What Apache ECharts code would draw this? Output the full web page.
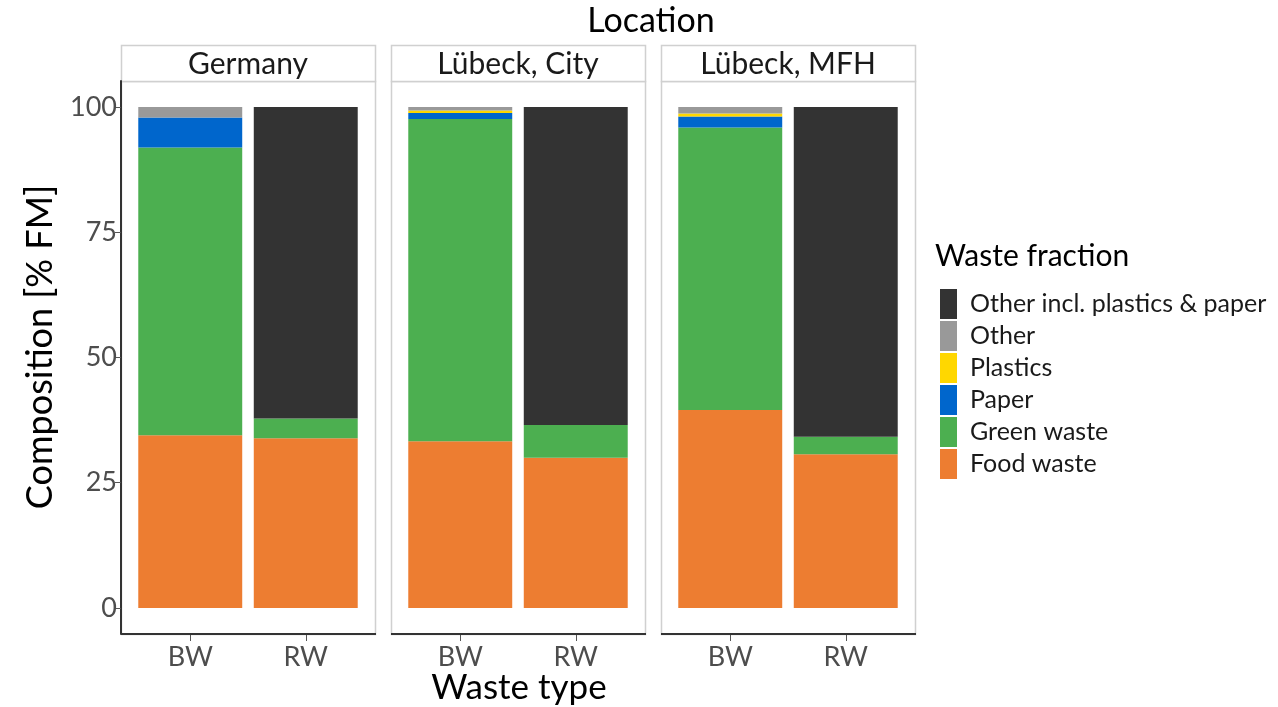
<!DOCTYPE html>
<html>
<head>
<meta charset="utf-8">
<script src="https://cdn.jsdelivr.net/npm/echarts@6/dist/echarts.min.js"></script>
<style>
  html, body { margin: 0; padding: 0; background: #fff; }
  #chart { width: 1278px; height: 707px; }
</style>
</head>
<body>
<div id="chart"></div>
<script>
// Facets and x categories
const locations = ['Germany', 'Lübeck, City', 'Lübeck, MFH'];
const wasteTypes = ['BW', 'RW'];
const yTicks = [0, 25, 50, 75, 100];

// Composition in % FM, one [BW, RW] pair per location
const foodWaste   = [[34.5, 33.9], [33.3, 30.0], [39.5, 30.7]];
const greenWaste  = [[57.4, 3.9],  [64.3, 6.5],  [56.4, 3.5]];
const paper       = [[6.0, 0],     [1.2, 0],     [2.2, 0]];
const plastics    = [[0, 0],       [0.5, 0],     [0.6, 0]];
const other       = [[2.1, 0],     [0.7, 0],     [1.3, 0]];
const otherIncl   = [[0, 62.2],    [0, 63.5],    [0, 65.8]];

// Stack order, bottom to top
const fractions = [
  { name: 'Food waste', values: foodWaste, color: '#ED7D31' },
  { name: 'Green waste', values: greenWaste, color: '#4CAF50' },
  { name: 'Paper', values: paper, color: '#0066CC' },
  { name: 'Plastics', values: plastics, color: '#FFD700' },
  { name: 'Other', values: other, color: '#999999' },
  { name: 'Other incl. plastics & paper', values: otherIncl, color: '#333333' }
];

const FONT = 'Lato, "Open Sans", sans-serif';
const panelLeft = [121, 391, 661];
const panelW = 254;
const inset = 11.5;          // extra room between panel edge and outer category band
const panelTop = 81;
const panelBottom = 634;
const stripTop = 45;

const grids = [], xAxes = [], yAxes = [], series = [], graphics = [];

locations.forEach((loc, i) => {
  grids.push({
    left: panelLeft[i] + inset, top: panelTop,
    width: panelW - 2 * inset, height: panelBottom - panelTop
  });
  xAxes.push({
    gridIndex: i, type: 'category', data: wasteTypes, position: 'bottom',
    axisLine: { show: false, onZero: false },
    axisTick: { show: true, alignWithLabel: true, length: 7, lineStyle: { color: '#555', width: 1 } },
    axisLabel: { margin: 10, fontFamily: FONT, fontSize: 27, color: '#4d4d4d' }
  });
  yAxes.push({
    gridIndex: i, type: 'value', min: -5.2, max: 105.2, offset: inset,
    splitLine: { show: false },
    axisLine: { show: i === 0, onZero: false, lineStyle: { color: '#333', width: 2 } },
    axisTick: { show: i === 0, customValues: yTicks, length: 6, lineStyle: { color: '#555' } },
    axisLabel: {
      show: i === 0, customValues: yTicks, margin: 4,
      fontFamily: FONT, fontSize: 27, color: '#4d4d4d'
    }
  });

  fractions.forEach(f => {
    series.push({
      type: 'bar', name: f.name, xAxisIndex: i, yAxisIndex: i,
      stack: 'loc' + i, barWidth: '90%',
      itemStyle: { color: f.color },
      emphasis: { disabled: true },
      data: f.values[i]
    });
  });

  // panel border
  graphics.push({
    type: 'rect', z: -1, silent: true,
    shape: { x: panelLeft[i] + 0.5, y: panelTop + 0.5, width: panelW, height: panelBottom - panelTop },
    style: { fill: null, stroke: '#d0d0d0', lineWidth: 1.5 }
  });
  // bottom axis line across the full panel
  graphics.push({
    type: 'line', silent: true, z: 10,
    shape: { x1: panelLeft[i], y1: panelBottom, x2: panelLeft[i] + panelW + 1, y2: panelBottom },
    style: { stroke: '#333', lineWidth: 2 }
  });
  // facet strip
  graphics.push({
    type: 'rect', silent: true,
    shape: { x: panelLeft[i] + 0.5, y: stripTop + 0.5, width: panelW, height: panelTop - stripTop },
    style: { fill: '#fff', stroke: '#d0d0d0', lineWidth: 1.5 }
  });
  graphics.push({
    type: 'text', silent: true,
    x: panelLeft[i] + panelW / 2, y: (stripTop + panelTop) / 2 + 1,
    style: { text: loc, fontFamily: FONT, fontSize: 30, fill: '#1a1a1a', align: 'center', verticalAlign: 'middle' }
  });
});

// titles
graphics.push({
  type: 'text', silent: true, x: 651, y: 21,
  style: { text: 'Location', fontFamily: FONT, fontSize: 34, fill: '#000', align: 'center', verticalAlign: 'middle' }
});
graphics.push({
  type: 'text', silent: true, x: 519, y: 688,
  style: { text: 'Waste type', fontFamily: FONT, fontSize: 35, fill: '#000', align: 'center', verticalAlign: 'middle' }
});
graphics.push({
  type: 'text', silent: true, x: 40, y: 347, rotation: Math.PI / 2,
  style: { text: 'Composition [% FM]', fontFamily: FONT, fontSize: 36, fill: '#000', align: 'center', verticalAlign: 'middle' }
});
graphics.push({
  type: 'text', silent: true, x: 935, y: 256,
  style: { text: 'Waste fraction', fontFamily: FONT, fontSize: 30, fill: '#000', align: 'left', verticalAlign: 'middle' }
});

const chart = echarts.init(document.getElementById('chart'), null, { renderer: 'canvas' });
chart.setOption({
  animation: false,
  backgroundColor: '#fff',
  grid: grids,
  xAxis: xAxes,
  yAxis: yAxes,
  series: series,
  legend: {
    orient: 'vertical', left: 935, top: 284,
    itemWidth: 17, itemHeight: 30, itemGap: 2,
    icon: 'rect', selectedMode: false,
    data: fractions.slice().reverse().map(f => f.name),
    textStyle: { fontFamily: FONT, fontSize: 25, color: '#1a1a1a', padding: [0, 0, 0, 8] }
  },
  graphic: graphics
});
</script>
</body>
</html>
